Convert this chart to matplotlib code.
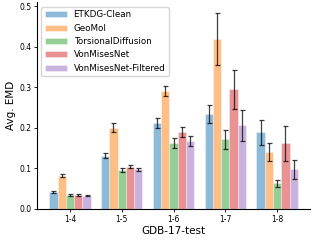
import numpy as np
import matplotlib
matplotlib.use('Agg')
import matplotlib.pyplot as plt

# test sets and methods
groups = ['1-4', '1-5', '1-6', '1-7', '1-8']
methods = ['ETKDG-Clean', 'GeoMol', 'TorsionalDiffusion', 'VonMisesNet', 'VonMisesNet-Filtered']
colors = ['#1f77b4', '#ff7f0e', '#2ca02c', '#d62728', '#9467bd']

# mean EMD per method (rows) and test set (cols)
etkdg = [0.042, 0.131, 0.212, 0.235, 0.189]
geomol = [0.082, 0.201, 0.292, 0.420, 0.140]
torsional = [0.035, 0.095, 0.162, 0.172, 0.063]
vonmises = [0.034, 0.104, 0.190, 0.295, 0.162]
vonmises_filt = [0.033, 0.098, 0.167, 0.207, 0.098]

# error bar half-widths
etkdg_err = [0.002, 0.006, 0.012, 0.022, 0.031]
geomol_err = [0.004, 0.012, 0.012, 0.064, 0.022]
torsional_err = [0.002, 0.005, 0.012, 0.023, 0.008]
vonmises_err = [0.002, 0.004, 0.013, 0.048, 0.043]
vonmises_filt_err = [0.002, 0.004, 0.012, 0.038, 0.023]

values = [etkdg, geomol, torsional, vonmises, vonmises_filt]
errors = [etkdg_err, geomol_err, torsional_err, vonmises_err, vonmises_filt_err]

fig, ax = plt.subplots(figsize=(3.15, 2.41), dpi=100)
x = np.arange(len(groups))
w = 0.16
for i in range(len(methods)):
    ax.bar(x + (i - 2) * w, values[i], w, yerr=errors[i], color=colors[i], alpha=0.5,
           edgecolor='white', linewidth=0.5, label=methods[i],
           error_kw=dict(ecolor='black', elinewidth=0.9, capsize=1.8, capthick=0.9, alpha=0.75))

ax.set_xticks(x)
ax.set_xticklabels(groups, fontsize=5.5)
ax.set_ylim(0, 0.51)
ax.set_yticks([0.0, 0.1, 0.2, 0.3, 0.4, 0.5])
ax.set_yticklabels(['0.0', '0.1', '0.2', '0.3', '0.4', '0.5'], fontsize=5.5)
ax.tick_params(length=2, width=0.6, pad=2)
ax.set_xlabel('GDB-17-test', fontsize=7.5, labelpad=2)
ax.set_ylabel('Avg. EMD', fontsize=7.5, labelpad=2)
ax.spines['top'].set_visible(False)
ax.spines['right'].set_visible(False)
ax.legend(loc='upper left', fontsize=6.3, handlelength=2.5, framealpha=0.8)

plt.subplots_adjust(left=0.117, right=0.985, top=0.99, bottom=0.133)
plt.savefig('out.png', dpi=100)
